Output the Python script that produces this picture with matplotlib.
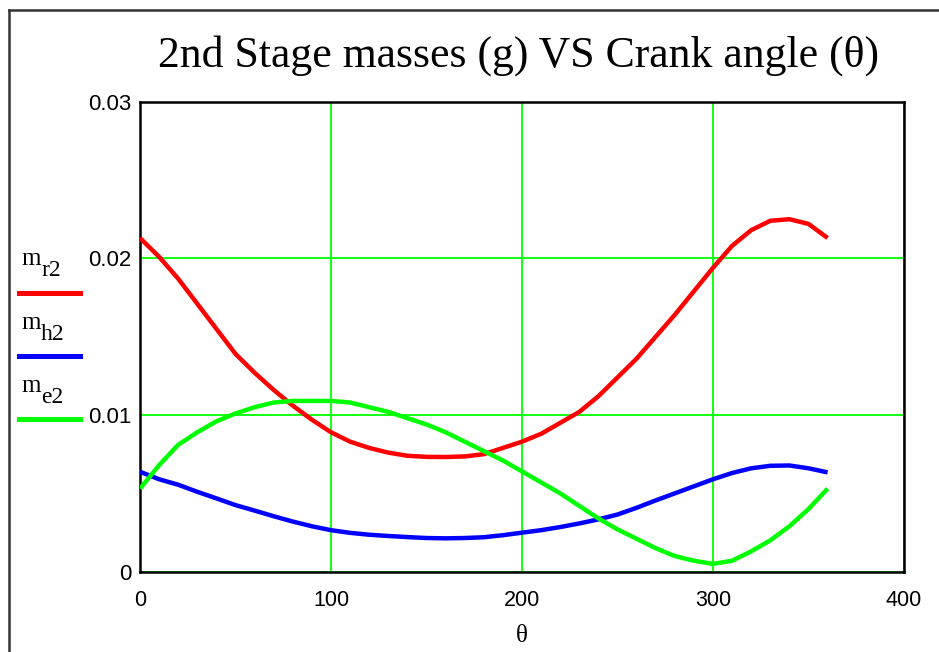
import matplotlib
matplotlib.use("Agg")
import matplotlib.pyplot as plt
from matplotlib.lines import Line2D

theta = list(range(0, 361, 10))
m_r2 = [0.0213, 0.0201, 0.0187, 0.0171, 0.0155, 0.0139, 0.0127, 0.0116, 0.0106,
        0.0097, 0.0089, 0.0083, 0.0079, 0.0076, 0.0074, 0.00733, 0.00732, 0.00736,
        0.0075, 0.0079, 0.0083, 0.0088, 0.0095, 0.0102, 0.0112, 0.0124, 0.0136,
        0.0150, 0.0164, 0.0179, 0.0194, 0.0208, 0.0218, 0.0224, 0.0225, 0.0222, 0.0213]
m_h2 = [0.00638, 0.0059, 0.00555, 0.0051, 0.00468, 0.00425, 0.0039, 0.00354, 0.0032,
        0.0029, 0.00265, 0.00248, 0.00236, 0.00228, 0.00221, 0.00215, 0.00213, 0.00215,
        0.0022, 0.00233, 0.00249, 0.00265, 0.00285, 0.00308, 0.00334, 0.00365, 0.00408,
        0.00455, 0.005, 0.00545, 0.0059, 0.0063, 0.0066, 0.00676, 0.00678, 0.0066, 0.00634]
m_e2 = [0.0053, 0.0068, 0.0081, 0.0089, 0.0096, 0.0101, 0.0105, 0.0108, 0.0109,
        0.0109, 0.0109, 0.0108, 0.0105, 0.0102, 0.0098, 0.0094, 0.0089, 0.0083,
        0.0077, 0.0071, 0.0064, 0.0057, 0.0050, 0.0042, 0.0034, 0.0027, 0.0021,
        0.0015, 0.0010, 0.0007, 0.0005, 0.0007, 0.0013, 0.0020, 0.0029, 0.0040, 0.0053]

x_ticks = [0, 100, 200, 300, 400]
x_tick_labels = ["0", "100", "200", "300", "400"]
y_ticks = [0, 0.01, 0.02, 0.03]
y_tick_labels = ["0", "0.01", "0.02", "0.03"]

series = [(m_r2, "#ff0000", "r2"),
          (m_h2, "#0000ff", "h2"),
          (m_e2, "#00ff00", "e2")]

W, H = 939, 652
fig = plt.figure(figsize=(W / 100, H / 100), dpi=100)
ax = fig.add_axes([140 / W, 1 - 571.7 / H, (904 - 140) / W, (571.7 - 101.7) / H])

for vals, col, _ in series:
    ax.plot(theta, vals, color=col, lw=3.2, solid_capstyle='butt',
            solid_joinstyle='round', zorder=3)

ax.set_xlim(0, 400)
ax.set_ylim(0, 0.03)
ax.set_xticks(x_ticks)
ax.set_xticklabels(x_tick_labels, family='Liberation Sans', fontsize=15.5)
ax.set_yticks(y_ticks)
ax.set_yticklabels(y_tick_labels, family='Liberation Sans', fontsize=16)
ax.tick_params(axis='x', length=0, pad=13)
ax.tick_params(axis='y', length=0, pad=6)
ax.grid(True, color='#00ff00', lw=1.3, zorder=1)
ax.set_axisbelow(True)
for s in ax.spines.values():
    s.set_color('black')
    s.set_linewidth(1.8)

ax.set_xlabel("θ", family='Liberation Serif', fontsize=18, labelpad=10)
fig.text(519 / W, 1 - 56 / H, "2nd Stage masses (g) VS Crank angle (θ)",
         family='Liberation Serif', fontsize=31.5, ha='center', va='center')

# legend at left
legend_y = [(265, 293), (329, 356), (392, 419)]
for (vals, col, sub), (ty, ly) in zip(series, legend_y):
    fig.text(21 / W, 1 - ty / H, "m", family='Liberation Serif', fontsize=18,
             ha='left', va='baseline')
    fig.text(41 / W, 1 - (ty + 11) / H, sub, family='Liberation Serif', fontsize=17,
             ha='left', va='baseline')
    fig.add_artist(Line2D([19 / W, 80 / W], [1 - ly / H] * 2, color=col, lw=3.6))

# outer frame (top and left edges)
fig.add_artist(Line2D([9 / W, 1.0], [1 - 10 / H] * 2, color='#333333', lw=1.8))
fig.add_artist(Line2D([9 / W, 9 / W], [1 - 10 / H, 0], color='#333333', lw=1.8))

fig.savefig("out.png", dpi=100)
